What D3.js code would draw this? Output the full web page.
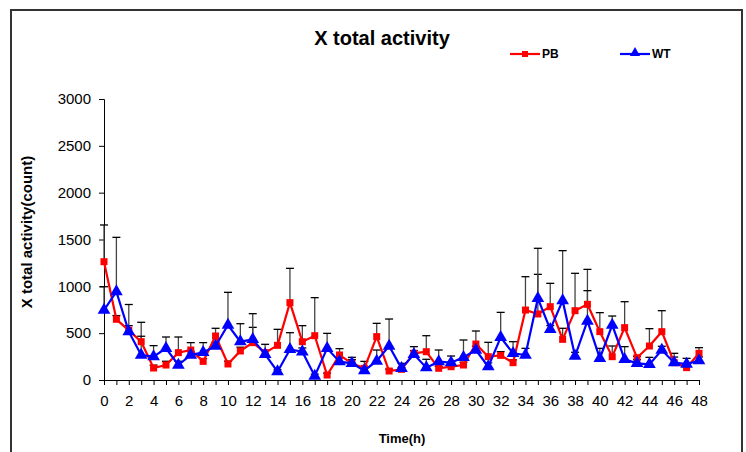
<!DOCTYPE html>
<html>
<head>
<meta charset="utf-8">
<script src="https://cdn.jsdelivr.net/npm/d3@7"></script>
<style>
  body { margin: 0; background: #fff; }
  text { font-family: "Liberation Sans", Arial, sans-serif; }
</style>
</head>
<body>
<div id="chart"></div>
<script>
// hours 0..48
var hours = d3.range(0, 49);

var pbMean = [1263, 648, 530, 409, 128, 160, 292, 320, 199, 470,
              171, 310, 399, 292, 370, 826, 409, 473, 53, 267,
              178, 125, 463, 96, 114, 285, 302, 125, 142, 160,
              384, 249, 263, 185, 747, 705, 783, 434, 740, 808,
              516, 249, 559, 238, 363, 516, 185, 132, 285];
var pbSd =   [392, 40, 50, 207, 30, 40, 167, 79, 30, 82,
              30, 40, 163, 89, 171, 366, 171, 406, 20, 68,
              64, 74, 142, 20, 20, 71, 171, 20, 30, 30,
              139, 153, 40, 30, 356, 423, 249, 118, 399, 373,
              203, 114, 277, 15, 185, 224, 100, 30, 60];

var wtMean = [747, 943, 516, 267, 249, 338, 160, 267, 295, 363,
              587, 409, 434, 274, 89, 327, 302, 43, 338, 196,
              178, 100, 203, 363, 125, 274, 132, 196, 185, 242,
              320, 142, 456, 285, 267, 872, 541, 847, 256, 630,
              231, 587, 221, 178, 167, 320, 185, 171, 206];
var wtSd =   [249, 580, 290, 200, 118, 121, 40, 40, 104, 40,
              349, 192, 274, 40, 20, 178, 40, 20, 160, 40,
              40, 30, 117, 288, 53, 40, 89, 124, 71, 185,
              40, 40, 266, 124, 71, 534, 40, 534, 40, 324,
              107, 96, 135, 40, 75, 40, 60, 60, 40];

var yTicks = [0, 500, 1000, 1500, 2000, 2500, 3000];
var xTicks = d3.range(0, 49, 2);

var W = 746, H = 452;
var svg = d3.select("#chart").append("svg")
    .attr("width", W)
    .attr("height", H);

// outer frame (runs off the bottom)
svg.append("rect")
    .attr("x", 11).attr("y", 10)
    .attr("width", 731).attr("height", 460)
    .attr("fill", "none")
    .attr("stroke", "#333")
    .attr("stroke-width", 2);

var x = d3.scaleLinear().domain([0, 48]).range([104, 699]);
var y = d3.scaleLinear().domain([0, 3000]).range([380, 99]);

var yAxis = d3.axisLeft(y).tickValues(yTicks).tickSize(5).tickPadding(8)
    .tickFormat(d3.format("d"));
var xAxis = d3.axisBottom(x).tickValues(hours).tickSize(5)
    .tickFormat(function(d) { return xTicks.indexOf(d) >= 0 ? d : ""; }).tickPadding(10);

var gy = svg.append("g")
    .attr("transform", "translate(104,0)")
    .call(yAxis);
var gx = svg.append("g")
    .attr("transform", "translate(0,380)")
    .call(xAxis);

[gx, gy].forEach(function(g) {
  g.select(".domain").attr("stroke", "#000");
  g.selectAll(".tick line").attr("stroke", "#000");
  g.selectAll(".tick text")
      .attr("fill", "#000")
      .attr("font-size", "15px")
      .attr("font-family", "'Liberation Sans', Arial, sans-serif");
});

// error bars (upper only)
function errBars(mean, sd) {
  var g = svg.append("g");
  hours.forEach(function(h, i) {
    var top = y(mean[i] + sd[i]);
    g.append("line")
        .attr("x1", x(h)).attr("x2", x(h))
        .attr("y1", y(mean[i])).attr("y2", top)
        .attr("stroke", "#444").attr("stroke-width", 1.3);
    g.append("line")
        .attr("x1", x(h) - 4).attr("x2", x(h) + 4)
        .attr("y1", top).attr("y2", top)
        .attr("stroke", "#000").attr("stroke-width", 1.3);
  });
}
errBars(pbMean, pbSd);
errBars(wtMean, wtSd);

var line = d3.line()
    .x(function(d) { return x(d[0]); })
    .y(function(d) { return y(d[1]); });

var pbData = hours.map(function(h, i) { return [h, pbMean[i]]; });
var wtData = hours.map(function(h, i) { return [h, wtMean[i]]; });

svg.append("path")
    .attr("d", line(pbData))
    .attr("fill", "none")
    .attr("stroke", "#ff0000")
    .attr("stroke-width", 2.2);

svg.selectAll(".pb")
    .data(pbData)
  .enter().append("rect")
    .attr("class", "pb")
    .attr("x", function(d) { return x(d[0]) - 3.5; })
    .attr("y", function(d) { return y(d[1]) - 3.5; })
    .attr("width", 7).attr("height", 7)
    .attr("fill", "#ff0000");

svg.append("path")
    .attr("d", line(wtData))
    .attr("fill", "none")
    .attr("stroke", "#0000ff")
    .attr("stroke-width", 2.2);

var tri = d3.symbol().type(d3.symbolTriangle).size(70);
svg.selectAll(".wt")
    .data(wtData)
  .enter().append("path")
    .attr("class", "wt")
    .attr("d", tri)
    .attr("transform", function(d) { return "translate(" + x(d[0]) + "," + y(d[1]) + ")"; })
    .attr("fill", "#0000ff");

// title and axis labels
svg.append("text")
    .attr("x", 382).attr("y", 45)
    .attr("text-anchor", "middle")
    .attr("font-size", "20px")
    .attr("font-weight", "bold")
    .text("X total activity");

svg.append("text")
    .attr("transform", "translate(32,232) rotate(-90)")
    .attr("text-anchor", "middle")
    .attr("font-size", "15px")
    .attr("font-weight", "bold")
    .text("X total activity(count)");

svg.append("text")
    .attr("x", 402).attr("y", 443)
    .attr("text-anchor", "middle")
    .attr("font-size", "13px")
    .attr("font-weight", "bold")
    .text("Time(h)");

// legend
var legend = [
  {name: "PB", color: "#ff0000", x: 510, shape: "square"},
  {name: "WT", color: "#0000ff", x: 620, shape: "triangle"}
];
legend.forEach(function(l) {
  var g = svg.append("g").attr("transform", "translate(" + l.x + ",54)");
  g.append("line").attr("x1", 0).attr("x2", 30).attr("y1", 0).attr("y2", 0)
      .attr("stroke", l.color).attr("stroke-width", 2.2);
  if (l.shape === "square") {
    g.append("rect").attr("x", 12).attr("y", -3).attr("width", 6).attr("height", 6)
        .attr("fill", l.color);
  } else {
    g.append("path").attr("d", d3.symbol().type(d3.symbolTriangle).size(45))
        .attr("transform", "translate(15,-1)").attr("fill", l.color);
  }
  g.append("text").attr("x", 32).attr("y", 4)
      .attr("font-size", "12px").attr("font-weight", "bold")
      .text(l.name);
});
</script>
</body>
</html>
